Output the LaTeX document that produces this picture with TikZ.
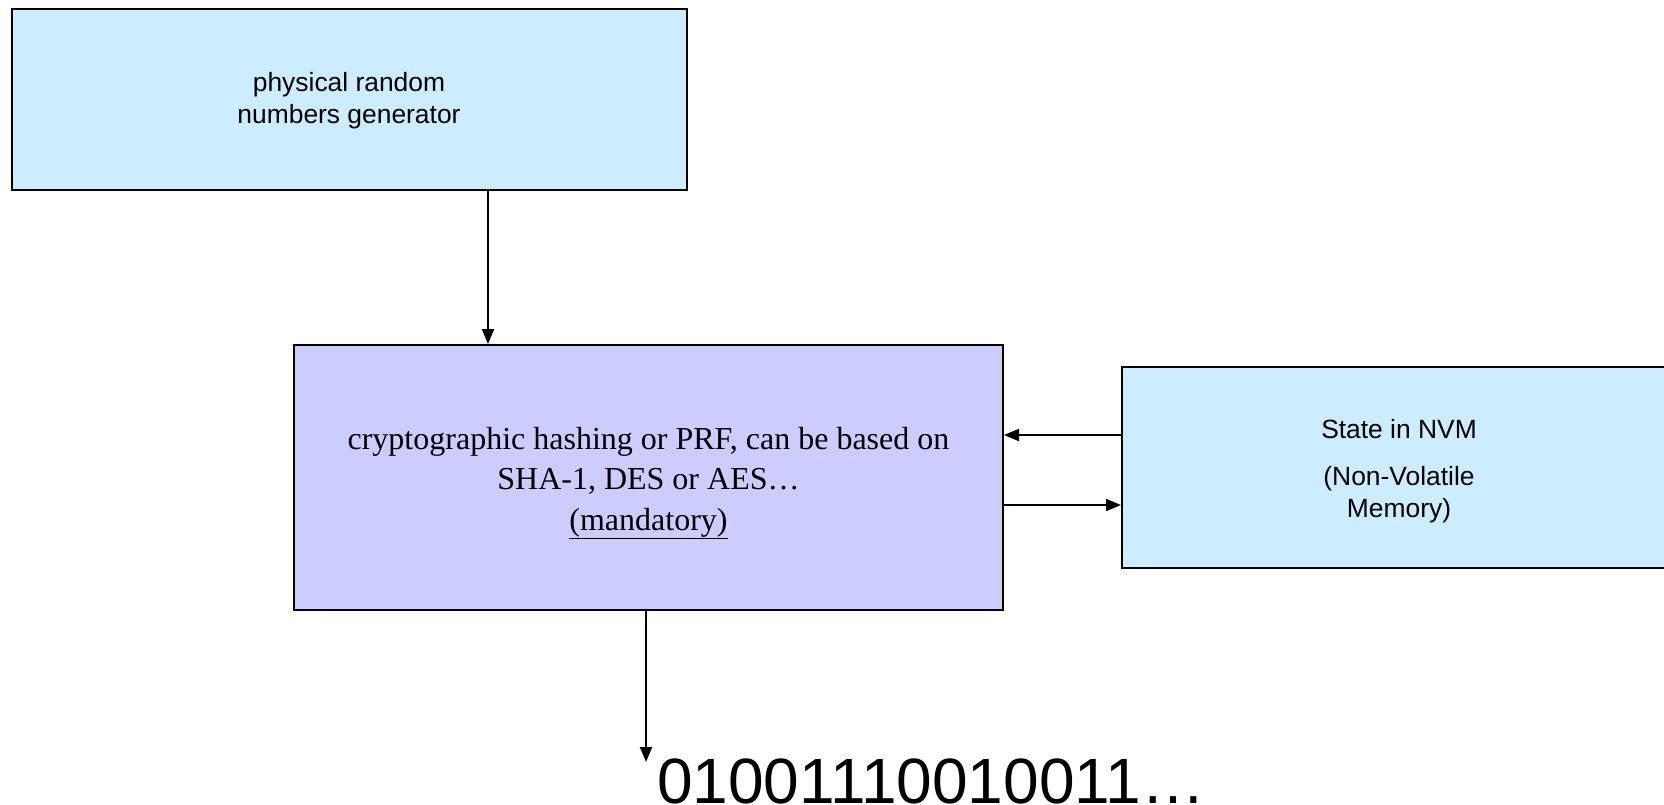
\documentclass[tikz,border=0pt]{standalone}
\usepackage{fontspec}
\setmainfont{Liberation Serif}
\newfontfamily\arialfont{Liberation Sans}
\usetikzlibrary{arrows.meta,calc}
\definecolor{skyfill}{HTML}{CCECFF}
\definecolor{lavfill}{HTML}{CCCCFF}

\begin{document}
\begin{tikzpicture}[x=1pt,y=-1pt,
    every node/.style={inner sep=0pt, align=center},
    box/.style={draw, rectangle, line width=2pt},
    arr/.style={line width=2pt, -{Triangle[length=15pt,width=12pt]}},
    sanslbl/.style={font=\arialfont\fontsize{26.4}{31.7}\selectfont}]
    \useasboundingbox (0,0) rectangle (1664,805);
    \clip (0,0) rectangle (1664,805);
    % boxes
    \node[box, fill=skyfill, minimum width=675pt, minimum height=181pt] (prng) at (349.5,99.5) {};
    \node[box, fill=lavfill, minimum width=709pt, minimum height=265pt] (crypto) at (648.5,477.5) {};
    \node[box, fill=skyfill, minimum width=558pt, minimum height=201pt] (nvm) at (1401,467.5) {};
    % box texts
    \node[sanslbl] (prngtext) at (349,101) {physical random\\numbers generator};
    \node[font=\fontsize{32}{40.5}\selectfont] (cryptotext) at (648.5,483) {cryptographic hashing or PRF, can be based on\\SHA-1, DES or AES…\\\underline{(mandatory)}};
    \node[sanslbl] (nvmtext) at (1399,471) {State in NVM\\[15pt](Non-Volatile\\Memory)};
    % output bits
    \node[anchor=base west, font=\arialfont\fontsize{64}{76}\selectfont] (bits) at (657,803) {01001110010011…};
    \coordinate (outtip) at (646,762);
    % connectors
    \draw[arr] (prng.south -| 488,0) -- (crypto.north -| 488,0);
    \draw[arr] (nvm.west |- 0,435) -- (crypto.east |- 0,435);
    \draw[arr] (crypto.east |- 0,505) -- (nvm.west |- 0,505);
    \draw[arr] (crypto.south -| 646,0) -- (outtip);
\end{tikzpicture}
\end{document}
